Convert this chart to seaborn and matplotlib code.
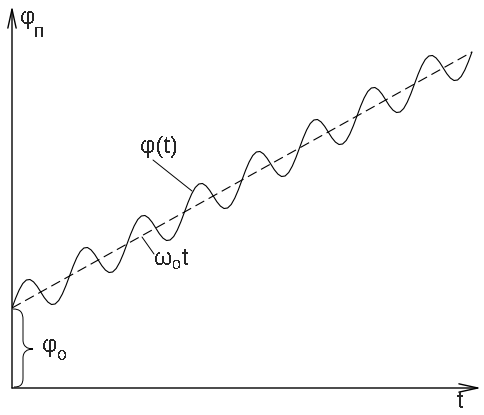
import numpy as np
import pandas as pd
import matplotlib
matplotlib.use("Agg")
import matplotlib.pyplot as plt
import seaborn as sns
from matplotlib.path import Path
from matplotlib.patches import PathPatch
from matplotlib.transforms import Affine2D

# ---------------- data ----------------
# phase phi(t), sampled 16 times per oscillation period, 8 periods
phi_wave = [
    7.7, 8.67, 9.51, 10.15, 10.5, 10.55, 10.31, 9.87, 9.3, 8.73, 8.29, 8.05, 8.1, 8.45, 9.09, 9.93,
    10.9, 11.87, 12.71, 13.35, 13.7, 13.75, 13.51, 13.07, 12.5, 11.93, 11.49, 11.25, 11.3, 11.65, 12.29, 13.13,
    14.1, 15.07, 15.91, 16.55, 16.9, 16.95, 16.71, 16.27, 15.7, 15.13, 14.69, 14.45, 14.5, 14.85, 15.49, 16.33,
    17.3, 18.27, 19.11, 19.75, 20.1, 20.15, 19.91, 19.47, 18.9, 18.33, 17.89, 17.65, 17.7, 18.05, 18.69, 19.53,
    20.5, 21.47, 22.31, 22.95, 23.3, 23.35, 23.11, 22.67, 22.1, 21.53, 21.09, 20.85, 20.9, 21.25, 21.89, 22.73,
    23.7, 24.67, 25.51, 26.15, 26.5, 26.55, 26.31, 25.87, 25.3, 24.73, 24.29, 24.05, 24.1, 24.45, 25.09, 25.93,
    26.9, 27.87, 28.71, 29.35, 29.7, 29.75, 29.51, 29.07, 28.5, 27.93, 27.49, 27.25, 27.3, 27.65, 28.29, 29.13,
    30.1, 31.07, 31.91, 32.55, 32.9, 32.95, 32.71, 32.27, 31.7, 31.13, 30.69, 30.45, 30.5, 30.85, 31.49, 32.33,
    33.3,
]
t_wave = np.linspace(0, 8, len(phi_wave))
# linear trend phi0 + w0*t
t_line = [0, 8]
phi_line = [7.7, 33.3]

# labels
y_label_main, y_label_sub = "φ", "п"
x_label = "t"
wave_label = "φ(t)"
line_label_main, line_label_sub, line_label_tail = "ω", "o", "t"
phi0_main, phi0_sub = "φ", "o"

# ---------------- figure ----------------
sns.set_style("white")
plt.rcParams["font.family"] = ["Liberation Sans", "DejaVu Sans"]
plt.rcParams["lines.scale_dashes"] = False
plt.rcParams["text.antialiased"] = False

W, H = 485, 415
fig = plt.figure(figsize=(W / 100, H / 100), dpi=100)
ax = fig.add_axes([12 / W, 1 - 388 / H, (481 - 12) / W, (388 - 6) / H])

df_wave = pd.DataFrame({"t": t_wave, "phi": phi_wave})
df_line = pd.DataFrame({"t": t_line, "phi": phi_line})
sns.lineplot(data=df_wave, x="t", y="phi", ax=ax, color="black", lw=0.8)
sns.lineplot(data=df_line, x="t", y="phi", ax=ax, color="black", lw=0.8,
             linestyle=(0, (7.2, 3.6)))

ax.set_xlim(0, 8.157)
ax.set_ylim(-0.3, 37.9)
ax.set_xticks([])
ax.set_yticks([])
ax.set_xlabel("")
ax.set_ylabel("")
for s in ax.spines.values():
    s.set_visible(False)
ax.patch.set_alpha(0)

arrow = dict(arrowstyle="->,head_length=0.68,head_width=0.15", lw=1.0,
             color="black", shrinkA=0, shrinkB=0, mutation_scale=20)
ax.annotate("", xy=(1, 0), xytext=(0, 0), xycoords="axes fraction",
            textcoords="axes fraction", arrowprops=arrow)
ax.annotate("", xy=(0, 1), xytext=(0, 0), xycoords="axes fraction",
            textcoords="axes fraction", arrowprops=arrow)

# pixel transform for annotations
px = Affine2D().scale(1 / W, -1 / H).translate(0, 1) + fig.transFigure

fs = 17
fig.text(20, 24, y_label_main, transform=px, fontsize=fs, va="baseline")
fig.text(34, 37, y_label_sub, transform=px, fontsize=14, va="baseline")
fig.text(457, 408, x_label, transform=px, fontsize=fs, va="baseline")
fig.text(140, 153, wave_label, transform=px, fontsize=fs, va="baseline")
fig.text(154, 265, line_label_main, transform=px, fontsize=fs, va="baseline")
fig.text(172, 269, line_label_sub, transform=px, fontsize=11.5, va="baseline")
fig.text(182, 265, line_label_tail, transform=px, fontsize=fs, va="baseline")
fig.text(42, 352, phi0_main, transform=px, fontsize=fs, va="baseline")
fig.text(57, 360, phi0_sub, transform=px, fontsize=13, va="baseline")

# leader lines
fig.add_artist(plt.Line2D([153, 192], [160, 191], transform=px, color="black", lw=0.7))
fig.add_artist(plt.Line2D([142, 154], [237, 254], transform=px, color="black", lw=0.7))

# brace for phi0
verts = [(13, 309), (20, 309), (23, 312), (23, 320),
         (23, 340),
         (23, 346), (27, 349), (33, 349),
         (27, 349), (23, 352), (23, 358),
         (23, 378),
         (23, 385), (20, 387), (14, 387)]
codes = [Path.MOVETO, Path.CURVE4, Path.CURVE4, Path.CURVE4,
         Path.LINETO,
         Path.CURVE4, Path.CURVE4, Path.CURVE4,
         Path.CURVE4, Path.CURVE4, Path.CURVE4,
         Path.LINETO,
         Path.CURVE4, Path.CURVE4, Path.CURVE4]
fig.add_artist(PathPatch(Path(verts, codes), transform=px, fill=False,
                         edgecolor="black", lw=0.7))

fig.savefig("out.png", dpi=100)
